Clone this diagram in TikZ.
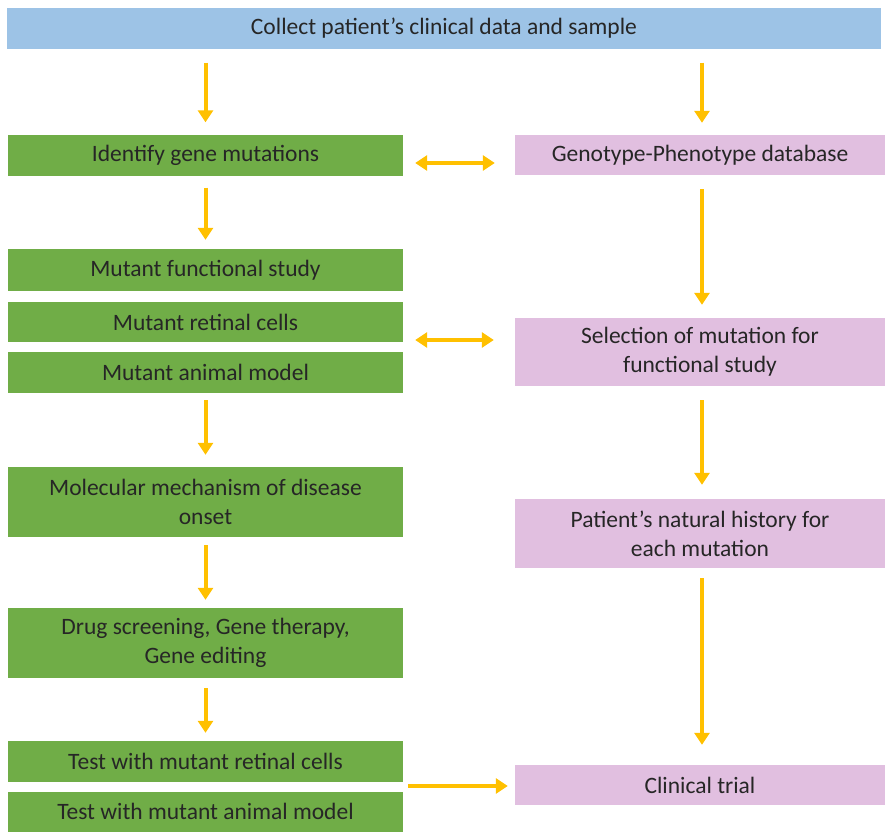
\documentclass[tikz,border=0pt]{standalone}
\usepackage{fontspec}
\setmainfont{Carlito}
\usepackage{xcolor}
\usetikzlibrary{arrows.meta, positioning}

\definecolor{topblue}{HTML}{9DC3E6}
\definecolor{stepgreen}{HTML}{70AD47}
\definecolor{steppink}{HTML}{E1BFE0}
\definecolor{arrorange}{HTML}{FFC000}

\begin{document}
\begin{tikzpicture}[
  x=1pt, y=-1pt,
  box/.style={rectangle, inner sep=2pt, align=center, text=black!85,
    font=\fontsize{23.5}{29}\selectfont},
  topbox/.style={box, fill=topblue, minimum width=874pt, minimum height=41pt},
  greenbox/.style={box, fill=stepgreen, minimum width=395pt},
  pinkbox/.style={box, fill=steppink, minimum width=370pt},
  arrow/.style={-{Triangle[width=15pt,length=12pt]}, line width=4pt, draw=arrorange},
  dblarrow/.style={{Triangle[width=15pt,length=12pt]}-{Triangle[width=15pt,length=12pt]}, line width=4pt, draw=arrorange}
]
\useasboundingbox (0,0) rectangle (887,831);

% Top box
\node[topbox] (collect) at (444,28) {Collect patient's clinical data and sample};

% Left column
\node[greenbox, minimum height=41pt] (identify) at (205.5,155) {Identify gene mutations};
\node[greenbox, minimum height=42pt] (functional) at (205.5,270) {Mutant functional study};
\node[greenbox, minimum height=40pt] (cells) at (205.5,322) {Mutant retinal cells};
\node[greenbox, minimum height=41pt] (animal) at (205.5,372.5) {Mutant animal model};
\node[greenbox, minimum height=70pt] (molecular) at (205.5,502) {Molecular mechanism of disease\\onset};
\node[greenbox, minimum height=70pt] (drug) at (205.5,643) {Drug screening, Gene therapy,\\Gene editing};
\node[greenbox, minimum height=41pt] (testcells) at (205.5,761.5) {Test with mutant retinal cells};
\node[greenbox, minimum height=40pt] (testanimal) at (205.5,811.5) {Test with mutant animal model};

% Right column
\node[pinkbox, minimum height=40pt] (genotype) at (700,155) {Genotype-Phenotype database};
\node[pinkbox, minimum height=68pt] (selection) at (700,352) {Selection of mutation for\\functional study};
\node[pinkbox, minimum height=69pt] (history) at (700,533.5) {Patient's natural history for\\each mutation};
\node[pinkbox, minimum height=40pt] (trial) at (700,785) {Clinical trial};

% Arrows
\draw[arrow, shorten <=14pt, shorten >=12pt] (collect.south -| identify) -- (identify);
\draw[arrow, shorten <=14pt, shorten >=12pt] ([xshift=2pt]collect.south -| genotype) -- ([xshift=2pt]genotype.north);
\draw[dblarrow, shorten <=12pt, shorten >=20pt] ([yshift=-8pt]identify.east) -- ([yshift=-8pt]identify.east -| genotype.west);
\draw[arrow, shorten <=12pt, shorten >=9pt] (identify) -- (functional);
\draw[arrow, shorten <=14pt, shorten >=13pt] ([xshift=2pt]genotype.south) -- ([xshift=2pt]selection.north);
\draw[dblarrow, shorten <=12pt, shorten >=21pt] ([yshift=-18pt]cells.east) -- ([yshift=-18pt]cells.east -| selection.west);
\draw[arrow, shorten <=7pt, shorten >=12pt] (animal) -- (molecular);
\draw[arrow, shorten <=14pt, shorten >=14pt] ([xshift=2pt]selection.south) -- ([xshift=2pt]history.north);
\draw[arrow, shorten <=8pt, shorten >=8pt] (molecular) -- (drug);
\draw[arrow, shorten <=10pt, shorten >=8pt] (drug) -- (testcells);
\draw[arrow, shorten <=10pt, shorten >=20pt] ([xshift=2pt]history.south) -- ([xshift=2pt]trial.north);
\draw[arrow, shorten <=5pt, shorten >=7pt] ([yshift=-1pt]trial.west -| testcells.east) -- ([yshift=-1pt]trial.west);

\end{tikzpicture}
\end{document}
